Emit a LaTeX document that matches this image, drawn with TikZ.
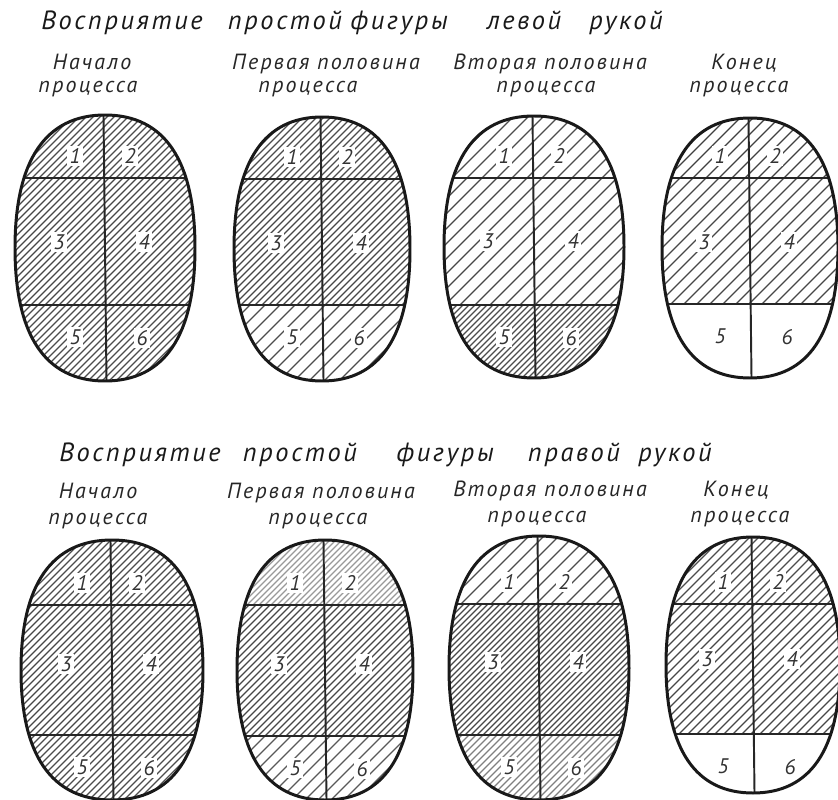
\documentclass[tikz,border=0pt]{standalone}
\usepackage{fontspec}
\setmainfont{PT Sans}[LetterSpace=10]
\usetikzlibrary{calc}

\newcommand{\eggpath}[4]{(#1+#3,#2) .. controls +(0,-0.66*#4) and +(0.66*#3,0) .. (#1,#2-#4)
  .. controls +(-0.66*#3,0) and +(0,-0.66*#4) .. (#1-#3,#2)
  .. controls +(0,0.66*#4) and +(-0.66*#3,0) .. (#1,#2+#4)
  .. controls +(0.66*#3,0) and +(0,0.66*#4) .. (#1+#3,#2) -- cycle}

\newcommand{\hatchbox}[6]{%
  \ifnum#5>0\relax
  \begin{scope}
    \clip (#1,#2) rectangle (#3,#4);
    \pgfmathtruncatemacro{\hn}{(#3-#1+#4-#2)/#5+2}
    \pgfmathsetmacro{\hc}{floor((#1+#2)/#5)*#5}
    \foreach \k in {0,...,\hn}
      \draw[hatchline,black!#6] ({\hc+\k*#5-#4},#4) -- ({\hc+\k*#5-#2},#2);
  \end{scope}
  \fi}

\begin{document}
\begin{tikzpicture}[x=0.02cm,y=-0.02cm,
  outline/.style={line width=1.7pt,black!90},
  divider/.style={line width=1.1pt,black!85},
  hatchline/.style={line width=0.65pt},
  num/.style={font=\itshape\fontsize{12}{14}\selectfont,fill=white,inner sep=1.2pt,text=black!80},
  ttl/.style={font=\itshape\fontsize{15}{17}\selectfont,anchor=base,text=black!90},
  subcap/.style={font=\itshape\fontsize{12.5}{15}\selectfont,anchor=base,text=black!85}]
  \useasboundingbox (0,0) rectangle (838,800);

  \foreach \w/\x [count=\i] in {Восприятие/122,простой/285,фигуры/399,левой/524,рукой/626}
    \node[ttl] (ta\i) at (\x,30) {\w};
  \foreach \w/\x [count=\i] in {Восприятие/140,простой/300,фигуры/445,правой/574,рукой/675}
    \node[ttl] (tb\i) at (\x,461) {\w};

  \foreach \w/\x/\y [count=\i] in {Начало/92/70,процесса/88/93,Первая половина/326/70,процесса/308/93,
      Вторая половина/550/70,процесса/546/93,Конец/744/70,процесса/739/93,
      Начало/98/498,процесса/98/524,Первая половина/321/498,процесса/318/524,
      Вторая половина/550/496,процесса/537/522,Конец/736/496,процесса/740/522}
    \node[subcap] (c\i) at (\x,\y) {\w};

  \foreach \cx/\cy/\rx/\ry/\la/\lb/\st/\sm/\sb/\kt/\kb [count=\e] in {
      105/248/90/133/178/305/7/7/7/70/70, 322/249/88/132/179/305/7/7/15/70/70,
      534/247/90/131/178/305/15/15/6/70/70, 750/248/88/130/178/304/13/13/0/75/75,
      112/670/91/130/605/735/7/7/7/70/70, 325/670/88/130/605/736/6/7/13/40/65,
      539/668/90/132/604/735/15/6/7/70/50, 753/665/87/128/604/734/9/9/0/70/70}
  {
    \pgfmathsetmacro{\xl}{\cx-\rx}
    \pgfmathsetmacro{\xr}{\cx+\rx}
    \pgfmathsetmacro{\yt}{\cy-\ry}
    \pgfmathsetmacro{\yb}{\cy+\ry}
    \begin{scope}
      \clip \eggpath{\cx}{\cy}{\rx}{\ry};
      \hatchbox{\xl}{\yt}{\xr}{\la}{\st}{\kt}
      \hatchbox{\xl}{\la}{\xr}{\lb}{\sm}{72}
      \hatchbox{\xl}{\lb}{\xr}{\yb}{\sb}{\kb}
      \node[num] (e\e-1) at (\cx-30,\la-22) {1};
      \node[num] (e\e-2) at (\cx+25,\la-22) {2};
      \node[num] (e\e-3) at (\cx-46,\cy-6) {3};
      \node[num] (e\e-4) at (\cx+39,\cy-6) {4};
      \node[num] (e\e-5) at (\cx-30,\lb+32) {5};
      \node[num] (e\e-6) at (\cx+37,\lb+33) {6};
      \draw[divider] (\xl,\la) -- (\xr,\la);
      \draw[divider] (\xl,\lb) -- (\xr,\lb);
      \draw[divider] (\cx-1.5,\yt) -- (\cx+1.5,\yb);
    \end{scope}
    \draw[outline] \eggpath{\cx}{\cy}{\rx}{\ry};
  }
\end{tikzpicture}
\end{document}
